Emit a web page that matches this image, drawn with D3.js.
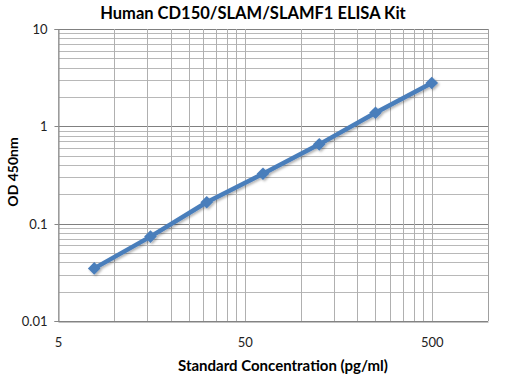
<!DOCTYPE html>
<html><head><meta charset="utf-8">
<script src="https://cdn.jsdelivr.net/npm/d3@7"></script>
<style>
body{margin:0;background:#fff;}
text{font-family:Lato,"Open Sans",sans-serif;}
</style></head>
<body><svg id="c" width="506" height="374"></svg>
<script>
const concentrations = [7.8125, 15.625, 31.25, 62.5, 125, 250, 500];
const odValues = [0.0347, 0.0736, 0.166, 0.326, 0.653, 1.38, 2.79];
const xTickLabels = [5, 50, 500];
const yTickLabels = [0.01, 0.1, 1, 10];
const title = "Human CD150/SLAM/SLAMF1 ELISA Kit";
const xTitle = "Standard Concentration (pg/ml)";
const yTitle = "OD 450nm";

const svg = d3.select("#c");
const L = 58, R = 488, T = 29, B = 321;
const x = d3.scaleLog().domain([5, 1000]).range([L, R]);
const y = d3.scaleLog().domain([0.01, 10]).range([B, T]);

const defs = svg.append("defs");
const f = defs.append("filter").attr("id","sh").attr("x","-20%").attr("y","-20%").attr("width","140%").attr("height","140%");
f.append("feDropShadow").attr("dx",1.5).attr("dy",1.5).attr("stdDeviation",1.2).attr("flood-color","#000").attr("flood-opacity",0.3);

const xGrid = [];
xTickLabels.forEach(m => { for (let k = 1; k <= 9; k++) { const v = m * k; if (v <= 1000) xGrid.push(v); } });
const yGrid = y.ticks();
const isMajor = d => Math.abs(Math.log10(d) - Math.round(Math.log10(d))) < 1e-6;

const g = svg.append("g");
g.selectAll("line.yg").data(yGrid).join("line")
  .attr("x1", L).attr("x2", R).attr("y1", d => Math.round(y(d)) + 0.5).attr("y2", d => Math.round(y(d)) + 0.5)
  .attr("stroke", d => isMajor(d) ? "#808080" : "#b8b8b8")
  .attr("stroke-width", 1);
g.selectAll("line.xg").data(xGrid).join("line")
  .attr("y1", T).attr("y2", B).attr("x1", d => Math.round(x(d)) + 0.5).attr("x2", d => Math.round(x(d)) + 0.5)
  .attr("stroke", "#b0b0b0").attr("stroke-width", 1);
g.append("line").attr("x1", Math.round(R)+0.5).attr("x2", Math.round(R)+0.5).attr("y1", T).attr("y2", B).attr("stroke","#a0a0a0");

const yAxis = d3.axisLeft(y).tickValues(yTickLabels).tickFormat(d => String(d)).tickSize(4).tickPadding(7);
const ya = svg.append("g").attr("transform", `translate(${L+0.5},0)`).call(yAxis);
ya.select(".domain").attr("stroke", "#868686");
ya.selectAll(".tick line").attr("stroke", "#868686");
ya.selectAll(".tick text").attr("font-size", 13).attr("fill", "#222");
ya.selectAll(".tick").attr("transform", d => `translate(0,${Math.round(y(d)) + 0.5})`);

const xAxis = d3.axisBottom(x).tickValues(xTickLabels).tickFormat(d => String(d)).tickSize(0).tickPadding(16);
const xa = svg.append("g").attr("transform", `translate(0,${B+0.5})`).call(xAxis);
xa.select(".domain").attr("stroke", "#868686");
xa.selectAll(".tick text").attr("font-size", 13).attr("fill", "#222");

const lineGen = d3.line().x((d, i) => x(concentrations[i])).y(d => y(d));
const series = svg.append("g").attr("filter", "url(#sh)");
series.append("path").datum(odValues).attr("d", lineGen)
  .attr("fill", "none").attr("stroke", "#4a7ebb").attr("stroke-width", 4.5).attr("stroke-linejoin", "round");
series.selectAll("path.m").data(odValues).join("path").attr("class","m")
  .attr("d", d3.symbol().type(d3.symbolSquare).size(80))
  .attr("transform", (d, i) => `translate(${x(concentrations[i])},${y(d)}) rotate(45)`)
  .attr("fill", "#4a7ebb");

svg.append("text").attr("x", 253).attr("y", 19).attr("text-anchor", "middle")
  .attr("font-size", 16.5).attr("font-weight", "bold").attr("fill", "#000").text(title);
svg.append("text").attr("x", 283).attr("y", 371).attr("text-anchor", "middle")
  .attr("font-size", 15).attr("font-weight", "bold").attr("fill", "#000").text(xTitle);
svg.append("text").attr("transform", "translate(18,172) rotate(-90)").attr("text-anchor", "middle")
  .attr("font-size", 14).attr("font-weight", "bold").attr("fill", "#000").text(yTitle);
</script></body></html>
